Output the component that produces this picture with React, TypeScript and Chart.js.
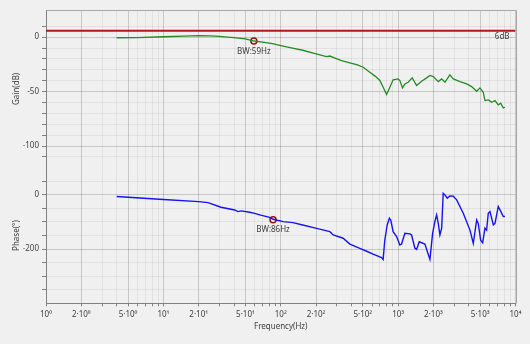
import { useEffect, useRef } from 'react';
import { Chart, registerables } from 'chart.js';

Chart.register(...registerables);

// ---- data ----
const gainFreq = [4, 6, 10, 15, 20, 25, 30, 35, 40, 50, 59, 70, 85, 98, 120, 154, 200, 245, 262, 290, 330, 388, 450, 504, 574, 640, 699, 746, 797, 851, 907, 1000, 1035, 1091, 1142, 1219, 1318, 1437, 1585, 1749, 1866, 1991, 2198, 2349, 2506, 2761, 2951, 3365, 3837, 4227, 4670, 4980, 5309, 5495, 5861, 6266, 6686, 7130, 7480, 7870, 8130];
const gainDb = [-0.5, -0.3, 0.4, 1.0, 1.4, 1.2, 0.8, 0.1, -0.4, -1.5, -3.5, -4.5, -6.0, -7.5, -9.5, -12.0, -15.3, -17.8, -17.3, -19.2, -21.5, -23.6, -25.5, -27.6, -32.2, -36.0, -39.8, -46.0, -52.7, -46.0, -39.2, -38.3, -39.8, -46.6, -42.9, -41.4, -37.4, -44.4, -40.5, -37.4, -35.2, -36.2, -40.8, -38.3, -41.4, -34.6, -38.3, -40.8, -42.9, -45.4, -49.7, -46.6, -50.6, -58.2, -57.6, -59.8, -58.2, -62.2, -60.7, -65.0, -64.4];

const phaseFreq = [4, 10, 20, 24, 31, 40.5, 43.2, 46.1, 54.4, 60, 66.2, 80.5, 86, 105, 127, 154, 202, 262, 280, 340, 388, 472, 540, 612, 722, 745, 770, 807, 842, 865, 907, 970, 1035, 1070, 1142, 1260, 1302, 1390, 1437, 1513, 1691, 1866, 1967, 2057, 2128, 2198, 2270, 2349, 2422, 2506, 2620, 2761, 2951, 3155, 3589, 4093, 4368, 4670, 4816, 5047, 5248, 5495, 5675, 5861, 6063, 6471, 6686, 7130, 7380, 7870, 8130];
const phaseDeg = [-6, -17, -25, -28.5, -45.7, -55.6, -61.6, -59, -64, -68, -74, -82.7, -90, -98.8, -102.5, -111, -123.5, -135.8, -148, -160, -181.5, -197, -208, -218.5, -231, -238, -167, -111, -86, -93, -135.8, -154, -185, -181.5, -142, -144, -148, -197, -201, -173, -181.5, -238, -142, -98.8, -74, -105, -148, -123, 6, 0, -12, -3.7, -5, -18.5, -68, -130, -179, -92.6, -105, -167, -177, -123, -130, -68, -62, -111, -105, -43, -55.6, -80, -80];

const refLevel = 6;
const refLabel = '6dB';

const gainMarkerFreq = [59];
const gainMarkerValue = [-3.5];
const gainMarkerText = ['BW:59Hz'];
const phaseMarkerFreq = [86];
const phaseMarkerValue = [-92];
const phaseMarkerText = ['BW:86Hz'];

const xTickValues = [1, 2, 3, 4, 5, 6, 7, 8, 9, 10, 20, 30, 40, 50, 60, 70, 80, 90, 100, 200, 300, 400, 500, 600, 700, 800, 900, 1000, 2000, 3000, 4000, 5000, 6000, 7000, 8000, 9000, 10000];
const xLabelMantissas = [1, 2, 5];
const gainTickLabels = [0, -50, -100];
const phaseTickLabels = [0, -200];

const FONT = '"Noto Sans", "Open Sans", sans-serif';
const SUP = ['⁰', '¹', '²', '³', '⁴', '⁵'];

function splitLog(v: number) {
  const e = Math.floor(Math.log10(v) + 1e-9);
  const m = Math.round(v / Math.pow(10, e));
  return { e, m };
}

function fmtX(v: number) {
  const { e, m } = splitLog(v);
  if (!xLabelMantissas.includes(m)) return '';
  return m === 1 ? `10${SUP[e]}` : `${m}·10${SUP[e]}`;
}

const MAJOR = 'rgba(0,0,0,0.17)';
const MINOR = 'rgba(0,0,0,0.055)';

export default function App() {
  const ref = useRef<HTMLCanvasElement | null>(null);

  useEffect(() => {
    document.body.style.margin = '0';
    document.body.style.background = '#f0f0f0';
    const canvas = ref.current;
    if (!canvas) return;

    const pts = (xs: number[], ys: number[]) => xs.map((x, i) => ({ x, y: ys[i] }));

    const bgPlugin = {
      id: 'bg',
      beforeDraw(chart: any) {
        const c = chart.ctx;
        c.save();
        c.fillStyle = '#f0f0f0';
        c.fillRect(0, 0, chart.width, chart.height);
        c.restore();
      },
      afterDraw(chart: any) {
        const c = chart.ctx;
        const a = chart.chartArea;
        c.save();
        c.strokeStyle = '#a8a8a8';
        c.lineWidth = 1;
        c.beginPath();
        c.moveTo(Math.round(a.left) + 0.5, Math.round(a.top) + 0.5);
        c.lineTo(Math.round(a.right) + 0.5, Math.round(a.top) + 0.5);
        c.lineTo(Math.round(a.right) + 0.5, Math.round(a.bottom) + 0.5);
        c.stroke();
        c.restore();
      },
      afterDatasetsDraw(chart: any) {
        const c = chart.ctx;
        const x = chart.scales.x;
        const yg = chart.scales.yGain;
        const yp = chart.scales.yPhase;
        const a = chart.chartArea;
        c.save();
        c.font = `8px ${FONT}`;
        c.fillStyle = '#404040';
        c.textAlign = 'center';
        c.textBaseline = 'middle';
        gainMarkerFreq.forEach((f, i) => {
          c.fillText(gainMarkerText[i], x.getPixelForValue(f), yg.getPixelForValue(gainMarkerValue[i]) + 11);
        });
        phaseMarkerFreq.forEach((f, i) => {
          c.fillText(phaseMarkerText[i], x.getPixelForValue(f), yp.getPixelForValue(phaseMarkerValue[i]) + 10);
        });
        c.textAlign = 'right';
        c.fillText(refLabel, a.right - 6, yg.getPixelForValue(refLevel) + 6.5);
        c.restore();
      },
    };

    const chart = new Chart(canvas, {
      type: 'scatter',
      data: {
        datasets: [
          {
            data: [{ x: 1, y: refLevel }, { x: 10000, y: refLevel }],
            yAxisID: 'yGain',
            showLine: true,
            borderColor: '#b01818',
            borderWidth: 2,
            pointRadius: 0,
          },
          {
            data: pts(gainFreq, gainDb),
            yAxisID: 'yGain',
            showLine: true,
            borderColor: '#268a26',
            borderWidth: 1.3,
            pointRadius: 0,
          },
          {
            data: pts(phaseFreq, phaseDeg),
            yAxisID: 'yPhase',
            showLine: true,
            borderColor: '#1414f0',
            borderWidth: 1.4,
            pointRadius: 0,
          },
          {
            data: pts(gainMarkerFreq, gainMarkerValue),
            yAxisID: 'yGain',
            pointRadius: 3,
            borderColor: '#9a1010',
            borderWidth: 1.5,
            backgroundColor: '#f0f0f0',
          },
          {
            data: pts(phaseMarkerFreq, phaseMarkerValue),
            yAxisID: 'yPhase',
            pointRadius: 3,
            borderColor: '#9a1010',
            borderWidth: 1.5,
            backgroundColor: '#f0f0f0',
          },
        ],
      },
      options: {
        responsive: false,
        animation: false,
        devicePixelRatio: 1,
        layout: { padding: { top: 10, right: 14.5, left: 0, bottom: 0 } },
        plugins: { legend: { display: false }, tooltip: { enabled: false } },
        scales: {
          x: {
            type: 'logarithmic',
            min: 1,
            max: 10000,
            afterBuildTicks: (s: any) => {
              s.ticks = xTickValues.map((v) => ({ value: v }));
            },
            afterFit: (s: any) => {
              s.height = 40.7;
            },
            ticks: {
              autoSkip: false,
              maxRotation: 0,
              padding: 4,
              color: '#404040',
              font: { family: FONT, size: 8 },
              callback: (v: any) => fmtX(Number(v)),
            },
            grid: {
              color: (ctx: any) => {
                const v = ctx.tick?.value;
                if (v === undefined) return MINOR;
                const { m } = splitLog(v);
                return xLabelMantissas.includes(m) ? MAJOR : MINOR;
              },
              tickColor: '#808080',
              tickLength: 3,
            },
            border: { color: '#808080' },
            title: {
              display: true,
              text: 'Frequency(Hz)',
              color: '#404040',
              font: { family: FONT, size: 8 },
              padding: { top: 0, bottom: 12 },
            },
          },
          yPhase: {
            type: 'linear',
            position: 'left',
            stack: 'bode',
            stackWeight: 135.4,
            weight: 1,
            min: -400,
            max: 100,
            afterFit: (s: any) => {
              s.width = 46;
            },
            ticks: {
              stepSize: 50,
              maxTicksLimit: 100,
              autoSkip: false,
              padding: 3,
              color: '#404040',
              font: { family: FONT, size: 8 },
              callback: (v: any) => (phaseTickLabels.includes(Number(v)) ? String(v) : ''),
            },
            grid: {
              color: (ctx: any) => {
                const v = ctx.tick?.value;
                if (v === 100 || v === -400) return 'rgba(0,0,0,0)';
                return v % 200 === 0 ? MAJOR : MINOR;
              },
              tickColor: (ctx: any) => {
                const v = ctx.tick?.value;
                return v === 100 || v === -400 ? 'rgba(0,0,0,0)' : '#808080';
              },
              tickLength: 4,
            },
            border: { color: '#808080' },
            title: {
              display: true,
              text: 'Phase(°)',
              color: '#404040',
              font: { family: FONT, size: 8 },
              padding: { top: 12, bottom: 0 },
            },
          },
          yGain: {
            type: 'linear',
            position: 'left',
            stack: 'bode',
            stackWeight: 157.6,
            weight: 2,
            min: -120,
            max: 25,
            afterFit: (s: any) => {
              s.width = 46;
            },
            ticks: {
              stepSize: 10,
              maxTicksLimit: 100,
              autoSkip: false,
              padding: 3,
              color: '#404040',
              font: { family: FONT, size: 8 },
              callback: (v: any) => (gainTickLabels.includes(Number(v)) ? String(v) : ''),
            },
            grid: {
              color: (ctx: any) => {
                const v = ctx.tick?.value;
                if (v === -120 || v === 25) return 'rgba(0,0,0,0)';
                return v % 50 === 0 ? MAJOR : MINOR;
              },
              tickColor: (ctx: any) => {
                const v = ctx.tick?.value;
                return v === -120 || v === 25 ? 'rgba(0,0,0,0)' : '#808080';
              },
              tickLength: 4,
            },
            border: { color: '#808080' },
            title: {
              display: true,
              text: 'Gain(dB)',
              color: '#404040',
              font: { family: FONT, size: 8 },
              padding: { top: 12, bottom: 0 },
            },
          },
        },
      } as any,
      plugins: [bgPlugin],
    });

    return () => chart.destroy();
  }, []);

  return <canvas ref={ref} width={530} height={344} style={{ display: 'block' }} />;
}
